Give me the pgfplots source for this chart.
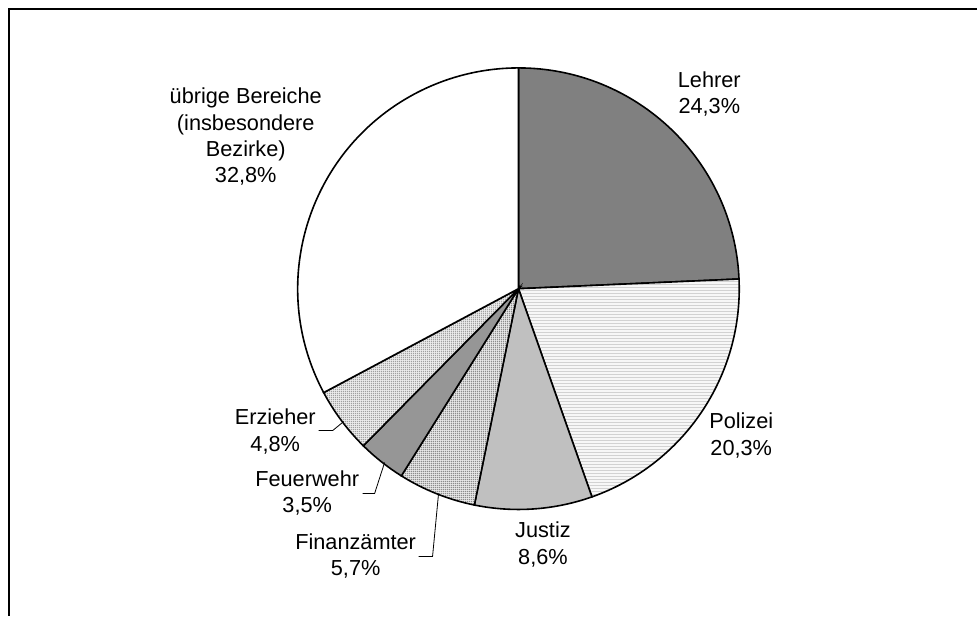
\documentclass[border=0pt]{standalone}
\usepackage{fontspec}
\setmainfont{Liberation Sans}
\usepackage{pgfplots}
\usepackage{pgfplotstable}
\pgfplotsset{compat=1.18}
\usetikzlibrary{patterns.meta}

\definecolor{cLehrer}{RGB}{128,128,128}
\definecolor{cJustiz}{RGB}{192,192,192}
\definecolor{cFeuer}{RGB}{150,150,150}

% share of each area in percent (clockwise from 12 o'clock)
\pgfplotstableread{
label value
Lehrer 24.3
Polizei 20.3
Justiz 8.6
Finanzaemter 5.7
Feuerwehr 3.5
Erzieher 4.8
uebrige 32.8
}\piedata

\def\piecum{0}
\pgfplotsforeachungrouped \i in {0,...,6}{%
  \pgfplotstablegetelem{\i}{value}\of\piedata
  \let\pieval\pgfplotsretval
  \pgfmathsetmacro\piesa{90-3.6*\piecum}%
  \pgfmathsetmacro\pieea{90-3.6*(\piecum+\pieval)}%
  \pgfmathsetmacro\piecum{\piecum+\pieval}%
  \expandafter\xdef\csname pieS\i\endcsname{\piesa}%
  \expandafter\xdef\csname pieE\i\endcsname{\pieea}%
}

\tikzset{
  slice0/.style={fill=cLehrer},
  slice1/.style={preaction={fill=gray!6}, pattern={Lines[angle=0,distance=2.25pt,line width=0.6pt]}, pattern color=gray!35},
  slice2/.style={fill=cJustiz},
  slice3/.style={preaction={fill=gray!18}, pattern={Dots[distance=1.5pt,radius=0.55pt]}, pattern color=gray!90},
  slice4/.style={fill=cFeuer},
  slice5/.style={preaction={fill=gray!15}, pattern={Dots[distance=1.5pt,radius=0.5pt]}, pattern color=gray!80},
  slice6/.style={fill=white},
}

\begin{document}
\begin{tikzpicture}
\begin{axis}[
  x=0.75pt, y=0.75pt,
  xmin=0, xmax=978, ymin=0, ymax=617,
  scale only axis, hide axis, clip=false,
]
\path (axis cs:0,0) rectangle (axis cs:978,617);
\pgfplotsinvokeforeach{0,...,6}{
  \filldraw[slice#1, draw=black, line width=1.2pt]
    (axis cs:519,328) -- ++(\csname pieS#1\endcsname:165.75pt)
    arc[start angle=\csname pieS#1\endcsname, end angle=\csname pieE#1\endcsname, radius=165.75pt] -- cycle;
}
% frame
\draw[line width=1.5pt] (axis cs:978,608) -- (axis cs:9,608) -- (axis cs:9,0);
% leader lines
\draw[line width=0.6pt] (axis cs:319,186) -- (axis cs:333,186) -- (axis cs:344,195);
\draw[line width=0.6pt] (axis cs:363,123) -- (axis cs:375,123) -- (axis cs:385,154);
\draw[line width=0.6pt] (axis cs:419,60) -- (axis cs:433,60) -- (axis cs:439,123);
% labels
\begin{scope}[every node/.style={align=center, inner sep=0pt, font=\fontsize{16.3}{19.7}\selectfont}]
\node at (axis cs:710,523) {Lehrer\\24,3\%};
\node at (axis cs:742,181) {Polizei\\20,3\%};
\node at (axis cs:543.5,72) {Justiz\\8,6\%};
\node at (axis cs:356,60.5) {Finanzämter\\5,7\%};
\node at (axis cs:307.5,123.5) {Feuerwehr\\3,5\%};
\node at (axis cs:275.5,185) {Erzieher\\4,8\%};
\node at (axis cs:246,480) {übrige Bereiche\\(insbesondere\\Bezirke)\\32,8\%};
\end{scope}
\end{axis}
\end{tikzpicture}
\end{document}
